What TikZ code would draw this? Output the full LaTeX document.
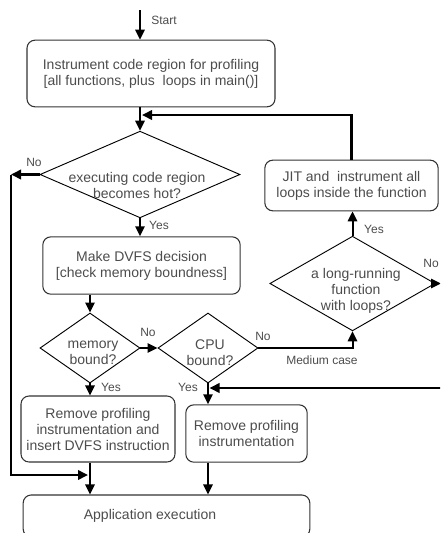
\documentclass[tikz,border=0pt]{standalone}
\usepackage{fontspec}
\setmainfont{Liberation Sans}
\usetikzlibrary{shapes.geometric,arrows.meta,positioning,calc}
\definecolor{txtgray}{gray}{0.3}

\begin{document}
\begin{tikzpicture}[x=0.75pt,y=-0.75pt,>={Triangle[length=7.5pt,width=7pt]},
  font=\fontsize{10.5}{12}\selectfont,
  stage/.style={draw=black!80,line width=0.8pt,rounded corners=6pt,inner sep=1pt,align=center,text=txtgray},
  decision/.style={draw=black,line width=0.7pt,diamond,inner sep=0pt},
  dtext/.style={align=center,text=txtgray,inner sep=0pt},
  flow/.style={->,line width=1.5pt},
  back/.style={->,line width=2pt},
  tag/.style={font=\fontsize{9}{10}\selectfont,text=txtgray,inner sep=0pt}]
\useasboundingbox (0,0) rectangle (440,533);
\clip (0,0) rectangle (440,533);

% boxes
\node[stage,minimum width=186pt,minimum height=50pt] (instr) at (151,73.5) {Instrument code region for profiling\\{[}all functions, plus~ loops in main(){]}};
\node[stage,minimum width=148pt,minimum height=43pt] (dvfs) at (141.5,265.5) {Make DVFS decision\\{[}check memory boundness{]}};
\node[stage,minimum width=115.5pt,minimum height=49.5pt] (rmdvfs) at (98,429) {Remove profiling\\instrumentation and\\insert DVFS instruction};
\node[stage,minimum width=91pt,minimum height=43pt] (rmprof) at (246.5,433.5) {Remove profiling\\instrumentation};
\node[stage,minimum width=130pt,minimum height=38pt] (jit) at (351.5,185.5) {JIT and~ instrument all\\loops inside the function};
\node[stage,minimum width=215pt,minimum height=31.5pt] (app) at (166.5,516) {};
\node[dtext] (apptext) at (150,516) {Application execution};

% decisions
\node[decision,minimum width=150pt,minimum height=65pt] (hot) at (140,174.5) {};
\node[dtext] (hottext) at (137,185) {executing code region\\becomes hot?};
\node[decision,minimum width=75pt,minimum height=52.5pt] (mem) at (90,348) {};
\node[dtext] (memtext) at (93,353) {memory\\bound?};
\node[decision,minimum width=75pt,minimum height=52.5pt] (cpu) at (208,348) {};
\node[dtext] (cputext) at (210,353) {CPU\\bound?};
\node[decision,minimum width=124pt,minimum height=71pt] (long) at (352.5,283.5) {};
\node[dtext] (longtext) at (356,291) {a long-running\\function\\with loops?};

% branch labels
\node[tag] (starttag) at (164,20) {Start};
\node[tag] (nohot) at (34,162) {No};
\node[tag] (yeshot) at (159,225) {Yes};
\node[tag] (nomem) at (148,332) {No};
\node[tag] (yesmem) at (111,387) {Yes};
\node[tag] (yescpu) at (188,387) {Yes};
\node[tag] (nocpu) at (263,336) {No};
\node[tag] (medium) at (322,360) {Medium case};
\node[tag] (yeslong) at (374,229) {Yes};
\node[tag,anchor=east] (nolong) at (439,263) {No};

\coordinate (start) at (140,10);
\coordinate (west) at (11,174.5);
\coordinate (rejoin) at (142,115);
\coordinate (appjoin) at (88,475);
\coordinate (offR) at (441,283.5);
\coordinate (inR) at (441,388);
\coordinate (cpujoin) at (209.5,388);

% connectors
\draw[flow] (start) -- (start |- instr.north);
\draw[flow] (instr.south -| hot.north) -- (hot.north);
\draw[flow] (hot.south) -- (hot.south |- dvfs.north);
\draw[flow] (dvfs.south -| mem.north) -- (mem.north);
\draw[flow] (mem.east) -- (cpu.west);
\draw[flow] (mem.south) -- (mem.south |- rmdvfs.north);
\draw[flow] (cpu.south) -- (cpu.south |- rmprof.north);
\draw[flow] (mem.south |- rmdvfs.south) -- (mem.south |- app.north);
\draw[flow] (cpu.south |- rmprof.south) -- (cpu.south |- app.north);
\draw[flow] (cpu.east) -| (long.south);
\draw[flow] (long.north) -- (long.north |- jit.south);
\draw[flow] (long.east) -- (offR);
\draw[back] (jit.north) |- (rejoin);
\draw[back] (hot.west) -- (west);
\draw[back] (west) |- (appjoin);
\draw[back] (inR) -- (cpujoin);
\end{tikzpicture}
\end{document}
